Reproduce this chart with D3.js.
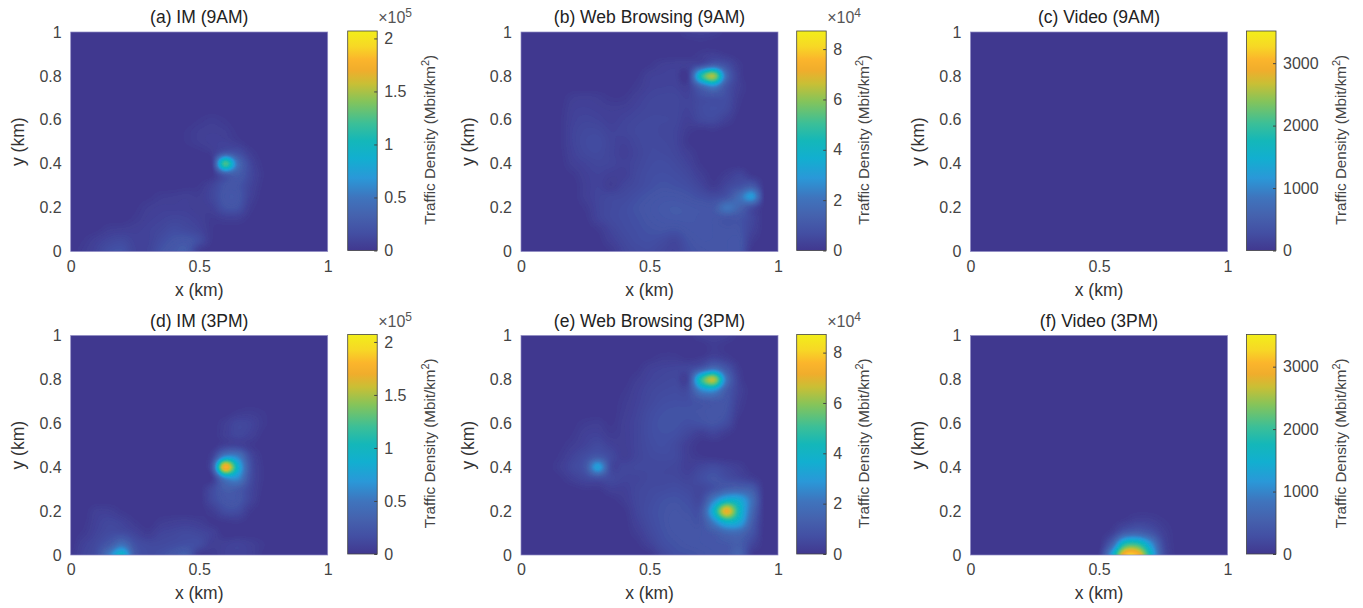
<!DOCTYPE html>
<html>
  <head>
    <meta charset="utf-8">
    <style>
      body { margin: 0; background: #fff; }
      text { font-family: "Liberation Sans", Arial, sans-serif; }
    </style>
  </head>
  <body>
    <svg id="chart" width="1363" height="608"></svg>
    <script src="https://cdn.jsdelivr.net/npm/d3@7"></script>
    <script>

    // every grid: rows from y=1 down to y=0, columns x=0..1, 0.05 km apart
    var imAM = [ // x 10^3 Mbit/km2
      [0,0,0,0,0,0,0,0,0,0,0,0,0,0,0,0,0,0,0,0,0],
      [0,0,0,0,0,0,0,0,0,0,0,0,0,0,0,0,0,0,0,0,0],
      [0,0,0,0,0,0,0,0,0,0,0,0,0,0,0,0,0,0,0,0,0],
      [0,0,0,0,0,0,0,0,0,0,0,0,0,0,0,0,0,0,0,0,0],
      [0,0,0,0,0,0,0,0,0,0,0,0,0,0,0,0,0,0,0,0,0],
      [0,0,0,0,0,0,0,0,0,0,0,0,0,0,0,0,0,0,0,0,0],
      [0,0,0,0,0,0,0,0,0,0,0,0,0,0,0,0,0,0,0,0,0],
      [0,0,0,0,0,0,0,0,0,0,0,0,0,0,0,0,0,0,0,0,0],
      [0,0,0,0,0,0,0,0,0,0,2,4,2,0,0,0,0,0,0,0,0],
      [0,0,0,0,0,0,0,0,0,2,5,6,5,1,0,0,0,0,0,0,0],
      [0,0,0,0,0,0,0,0,0,2,5,7,8,4,0,0,0,0,0,0,0],
      [0,0,0,0,0,0,0,0,0,0,1,5,24,18,5,0,0,0,0,0,0],
      [0,0,0,0,0,0,0,0,0,0,0,4,125,46,12,1,0,0,0,0,0],
      [0,0,0,0,0,0,0,0,0,0,0,1,26,29,13,2,0,0,0,0,0],
      [0,0,0,0,0,0,0,0,0,1,2,10,22,22,10,1,0,0,0,0,0],
      [0,0,0,0,0,0,1,4,5,6,5,12,24,24,8,0,0,0,0,0,0],
      [0,0,0,0,0,1,5,7,7,7,5,8,20,20,4,0,0,0,0,0,0],
      [0,0,0,0,0,3,7,9,11,10,7,3,6,6,1,0,0,0,0,0,0],
      [0,0,1,5,6,7,9,12,16,14,10,2,0,0,0,0,0,0,0,0,0],
      [0,2,7,12,14,9,9,16,22,24,16,2,0,0,0,0,0,0,0,0,0],
      [0,4,10,18,20,10,10,20,26,28,4,0,0,0,0,0,0,0,0,0,0]
    ];
    var webAM = [ // x 10^2 Mbit/km2
      [0,0,0,0,0,0,0,0,0,0,0,0,2,20,25,20,3,0,0,0,0],
      [0,0,0,0,0,0,0,0,0,0,0,0,0,2,6,3,0,0,0,0,0],
      [0,0,0,0,0,0,0,0,0,0,0,0,0,0,15,25,10,0,0,0,0],
      [0,0,0,0,0,0,0,0,0,0,8,25,30,30,70,130,75,15,0,0,0],
      [0,0,0,0,0,0,0,0,0,5,30,35,35,20,450,630,170,25,0,0,0],
      [0,0,0,0,0,0,0,0,0,15,35,40,40,30,150,230,90,25,0,0,0],
      [0,0,0,0,20,25,20,8,10,30,45,50,50,40,70,80,70,15,0,0,0],
      [0,0,0,3,30,35,30,25,28,40,50,50,50,40,65,75,60,8,0,0,0],
      [0,0,0,5,35,45,40,30,40,50,55,55,50,30,55,60,30,0,0,0,0],
      [0,0,0,5,40,55,55,40,45,55,60,50,45,15,5,10,0,0,0,0,0],
      [0,0,0,5,40,60,65,45,35,50,60,55,45,8,0,0,0,0,0,0,0],
      [0,0,0,3,35,55,60,45,30,45,60,60,50,25,2,0,0,0,0,0,0],
      [0,0,0,1,25,40,50,45,35,50,65,70,60,40,8,0,0,0,0,0,0],
      [0,0,0,0,8,30,40,30,30,55,70,75,70,55,25,3,20,45,10,0,0],
      [0,0,0,0,0,25,40,20,45,60,75,85,80,70,45,15,50,80,110,0,0],
      [0,0,0,0,0,25,45,55,60,75,90,100,100,90,75,65,90,190,300,0,0],
      [0,0,0,0,0,12,45,60,70,85,100,110,115,110,105,110,210,150,70,0,0],
      [0,0,0,0,0,4,40,60,70,80,95,105,110,110,105,100,90,90,50,0,0],
      [0,0,0,0,0,0,12,45,65,75,85,90,85,100,105,100,95,90,40,0,0],
      [0,0,0,0,0,0,2,30,55,70,75,65,50,85,100,100,100,100,20,0,0],
      [0,0,0,0,0,0,0,10,45,60,65,50,40,75,90,95,100,100,5,0,0]
    ];
    var videoAM = [ // Mbit/km2
      [0,0,0,0,0,0,0,0,0,0,0,0,0,0,0,0,0,0,0,0,0],
      [0,0,0,0,0,0,0,0,0,0,0,0,0,0,0,0,0,0,0,0,0],
      [0,0,0,0,0,0,0,0,0,0,0,0,0,0,0,0,0,0,0,0,0],
      [0,0,0,0,0,0,0,0,0,0,0,0,0,0,0,0,0,0,0,0,0],
      [0,0,0,0,0,0,0,0,0,0,0,0,0,0,0,0,0,0,0,0,0],
      [0,0,0,0,0,0,0,0,0,0,0,0,0,0,0,0,0,0,0,0,0],
      [0,0,0,0,0,0,0,0,0,0,0,0,0,0,0,0,0,0,0,0,0],
      [0,0,0,0,0,0,0,0,0,0,0,0,0,0,0,0,0,0,0,0,0],
      [0,0,0,0,0,0,0,0,0,0,0,0,0,0,0,0,0,0,0,0,0],
      [0,0,0,0,0,0,0,0,0,0,0,0,0,0,0,0,0,0,0,0,0],
      [0,0,0,0,0,0,0,0,0,0,0,0,0,0,0,0,0,0,0,0,0],
      [0,0,0,0,0,0,0,0,0,0,0,0,0,0,0,0,0,0,0,0,0],
      [0,0,0,0,0,0,0,0,0,0,0,0,0,0,0,0,0,0,0,0,0],
      [0,0,0,0,0,0,0,0,0,0,0,0,0,0,0,0,0,0,0,0,0],
      [0,0,0,0,0,0,0,0,0,0,0,0,0,0,0,0,0,0,0,0,0],
      [0,0,0,0,0,0,0,0,0,0,0,0,0,0,0,0,0,0,0,0,0],
      [0,0,0,0,0,0,0,0,0,0,0,0,0,0,0,0,0,0,0,0,0],
      [0,0,0,0,0,0,0,0,0,0,0,0,0,0,0,0,0,0,0,0,0],
      [0,0,0,0,0,0,0,0,0,0,0,0,0,0,0,0,0,0,0,0,0],
      [0,0,0,0,0,0,0,0,0,0,0,0,0,0,0,0,0,0,0,0,0],
      [0,0,0,0,0,0,0,0,0,0,0,0,0,0,0,0,0,0,0,0,0]
    ];
    var imPM = [
      [0,0,0,0,0,0,0,0,0,0,0,0,0,0,0,0,0,0,0,0,0],
      [0,0,0,0,0,0,0,0,0,0,0,0,0,0,0,0,0,0,0,0,0],
      [0,0,0,0,0,0,0,0,0,0,0,0,0,0,0,0,0,0,0,0,0],
      [0,0,0,0,0,0,0,0,0,0,0,0,0,0,0,0,0,0,0,0,0],
      [0,0,0,0,0,0,0,0,0,0,0,0,0,0,0,0,0,0,0,0,0],
      [0,0,0,0,0,0,0,0,0,0,0,0,0,0,0,0,0,0,0,0,0],
      [0,0,0,0,0,0,0,0,0,0,0,0,0,0,0,0,0,0,0,0,0],
      [0,0,0,0,0,0,0,0,0,0,0,0,0,3,4,2,0,0,0,0,0],
      [0,0,0,0,0,0,0,0,0,0,0,0,5,12,10,3,0,0,0,0,0],
      [0,0,0,0,0,0,0,0,0,0,0,0,6,12,8,1,0,0,0,0,0],
      [0,0,0,0,0,0,0,0,0,0,0,0,8,9,3,0,0,0,0,0,0],
      [0,0,0,0,0,0,0,0,0,0,0,8,60,55,14,1,0,0,0,0,0],
      [0,0,0,0,0,0,0,0,0,0,0,22,178,92,20,2,0,0,0,0,0],
      [0,0,0,0,0,0,0,0,0,0,0,4,58,62,17,2,0,0,0,0,0],
      [0,0,0,0,0,0,0,0,0,0,0,14,30,28,12,1,0,0,0,0,0],
      [0,0,0,0,0,0,0,0,0,0,0,14,24,24,10,0,0,0,0,0,0],
      [0,0,6,6,2,0,0,0,0,0,0,5,16,16,3,0,0,0,0,0,0],
      [0,1,8,12,9,3,0,4,6,7,5,1,2,3,0,0,0,0,0,0,0],
      [0,3,10,15,16,10,4,10,12,14,12,8,0,0,0,0,0,0,0,0,0],
      [0,8,14,26,45,20,14,14,16,18,16,6,7,9,6,2,0,0,0,0,0],
      [2,10,18,55,95,28,16,18,24,30,4,3,8,9,7,1,0,0,0,0,0]
    ];
    var webPM = [
      [0,0,0,0,0,0,0,0,0,0,0,0,0,0,25,35,25,3,0,0,0],
      [0,0,0,0,0,0,0,0,0,0,0,0,0,0,0,15,5,0,0,0,0],
      [0,0,0,0,0,0,0,0,0,0,5,15,15,5,15,40,20,0,0,0,0],
      [0,0,0,0,0,0,0,0,0,5,30,40,45,50,110,190,100,15,0,0,0],
      [0,0,0,0,0,0,0,0,1,20,40,50,55,50,470,650,200,30,0,0,0],
      [0,0,0,0,0,0,0,0,8,30,50,60,65,70,250,280,120,35,0,0,0],
      [0,0,0,0,0,0,0,0,15,35,55,70,75,75,100,110,95,25,0,0,0],
      [0,0,0,0,0,0,0,0,20,40,65,80,85,85,90,100,85,15,0,0,0],
      [0,0,0,0,3,15,20,5,25,45,70,85,85,75,80,90,65,2,0,0,0],
      [0,0,0,0,8,30,35,15,25,45,70,80,75,50,25,40,15,0,0,0,0],
      [0,0,0,3,20,40,60,35,25,45,65,75,60,25,2,0,0,0,0,0,0],
      [0,0,0,10,40,70,105,60,25,45,60,65,60,25,10,5,0,0,0,0,0],
      [0,0,0,20,55,100,320,60,50,55,55,55,50,30,50,65,45,25,0,0,0],
      [0,0,0,5,30,55,80,60,45,45,55,55,55,45,70,90,70,50,25,0,0],
      [0,0,0,0,2,10,10,30,30,50,60,65,70,60,50,90,140,150,120,0,0],
      [0,0,0,0,0,0,0,3,20,50,65,80,85,75,65,240,380,350,190,0,0],
      [0,0,0,0,0,0,0,0,5,45,70,85,95,85,100,380,720,420,170,0,0],
      [0,0,0,0,0,0,0,0,0,35,65,85,100,95,95,240,390,340,130,0,0],
      [0,0,0,0,0,0,0,0,0,20,55,80,95,100,100,120,170,170,90,0,0],
      [0,0,0,0,0,0,0,0,0,5,35,70,85,95,100,105,110,125,50,0,0],
      [0,0,0,0,0,0,0,0,0,0,5,50,75,80,90,100,105,150,15,0,0]
    ];
    var videoPM = [
      [0,0,0,0,0,0,0,0,0,0,0,0,0,0,0,0,0,0,0,0,0],
      [0,0,0,0,0,0,0,0,0,0,0,0,0,0,0,0,0,0,0,0,0],
      [0,0,0,0,0,0,0,0,0,0,0,0,0,0,0,0,0,0,0,0,0],
      [0,0,0,0,0,0,0,0,0,0,0,0,0,0,0,0,0,0,0,0,0],
      [0,0,0,0,0,0,0,0,0,0,0,0,0,0,0,0,0,0,0,0,0],
      [0,0,0,0,0,0,0,0,0,0,0,0,0,0,0,0,0,0,0,0,0],
      [0,0,0,0,0,0,0,0,0,0,0,0,0,0,0,0,0,0,0,0,0],
      [0,0,0,0,0,0,0,0,0,0,0,0,0,0,0,0,0,0,0,0,0],
      [0,0,0,0,0,0,0,0,0,0,0,0,0,0,0,0,0,0,0,0,0],
      [0,0,0,0,0,0,0,0,0,0,0,0,0,0,0,0,0,0,0,0,0],
      [0,0,0,0,0,0,0,0,0,0,0,0,0,0,0,0,0,0,0,0,0],
      [0,0,0,0,0,0,0,0,0,0,0,0,0,0,0,0,0,0,0,0,0],
      [0,0,0,0,0,0,0,0,0,0,0,0,0,0,0,0,0,0,0,0,0],
      [0,0,0,0,0,0,0,0,0,0,0,0,0,0,0,0,0,0,0,0,0],
      [0,0,0,0,0,0,0,0,0,0,0,0,0,0,0,0,0,0,0,0,0],
      [0,0,0,0,0,0,0,0,0,0,0,0,0,0,0,0,0,0,0,0,0],
      [0,0,0,0,0,0,0,0,0,0,0,0,5,20,20,5,0,0,0,0,0],
      [0,0,0,0,0,0,0,0,0,0,0,10,90,170,140,50,5,0,0,0,0],
      [0,0,0,0,0,0,0,0,0,0,0,120,520,600,420,130,10,0,0,0,0],
      [0,0,0,0,0,0,0,0,0,0,0,600,1850,1950,1200,250,10,0,0,0,0],
      [0,0,0,0,0,0,0,0,0,0,60,1300,3100,3100,1700,350,15,0,0,0,0]
    ];

    var titles = ['(a) IM (9AM)', '(b) Web Browsing (9AM)', '(c) Video (9AM)',
                  '(d) IM (3PM)', '(e) Web Browsing (3PM)', '(f) Video (3PM)'];
    var grids = [imAM, webAM, videoAM, imPM, webPM, videoPM];
    var gridUnits = [1e3, 1e2, 1, 1e3, 1e2, 1];
    var barMax = [207000, 87200, 3515, 207000, 87200, 3515];
    var barExponents = [5, 4, null, 5, 4, null];
    var barTicks = [
      [0, 50000, 100000, 150000, 200000],
      [0, 20000, 40000, 60000, 80000],
      [0, 1000, 2000, 3000]
    ];
    var xTicks = [0, 0.5, 1];
    var yTicks = [0, 0.2, 0.4, 0.6, 0.8, 1];

    // colorbar, position 0..1 against colour
    var colorPos = [0, 0.08, 0.16, 0.24, 0.33, 0.42, 0.50, 0.58, 0.68, 0.76, 0.82, 0.87, 0.93, 1];
    var colorHex = ['#41388f', '#434fa3', '#4562ae', '#3f74bd', '#2a98d8', '#12afd0', '#14b7b9',
                    '#3cbf97', '#85c45a', '#c9bf35', '#f0ad2c', '#fbb52c', '#f7d825', '#f2ee1a'];

    var colLeft = [70.7, 521, 970.5];
    var barLeft = [347.7, 796.7, 1246.5];
    var labelX = [435, 869, 1346];
    var rowTop = [32, 335.5];
    var plotW = 257, plotH = 219.5, barW = 29.5;
    var upsample = 5;

    var svg = d3.select('#chart');
    var defs = svg.append('defs');
    defs.append('filter').attr('id', 'soft')
        .attr('x', '-5%').attr('y', '-5%').attr('width', '110%').attr('height', '110%')
      .append('feGaussianBlur').attr('stdDeviation', 0.5);

    var grad = defs.append('linearGradient').attr('id', 'parula')
        .attr('x1', 0).attr('x2', 0).attr('y1', 1).attr('y2', 0);
    colorPos.forEach(function(p, i){
      grad.append('stop').attr('offset', p).attr('stop-color', colorHex[i]);
    });

    function cubic(a, b, c, d, t){
      return 0.5*(2*b + (c-a)*t + (2*a-5*b+4*c-d)*t*t + (3*b-a-3*c+d)*t*t*t);
    }

    // smooth the coarse grid for drawing, same idea as shading interp
    function smoothGrid(g){
      var n = g.length, m = (n-1)*upsample + 1;
      var out = new Array(m*m);
      function at(r, c){
        return g[Math.max(0, Math.min(n-1, r))][Math.max(0, Math.min(n-1, c))];
      }
      for (var j = 0; j < m; j++){
        var r = Math.min(Math.floor(j/upsample), n-2), tr = j/upsample - r;
        for (var i = 0; i < m; i++){
          var c = Math.min(Math.floor(i/upsample), n-2), tc = i/upsample - c;
          var col = [-1, 0, 1, 2].map(function(k){
            return cubic(at(r+k, c-1), at(r+k, c), at(r+k, c+1), at(r+k, c+2), tc);
          });
          out[j*m + i] = Math.max(0, cubic(col[0], col[1], col[2], col[3], tr));
        }
      }
      return {values: out, size: m};
    }

    function styleAxis(g, size){
      g.select('.domain').remove();
      g.selectAll('text').style('font-size', size + 'px').attr('fill', '#444');
    }

    grids.forEach(function(grid, k){
      var col = k % 3, row = Math.floor(k / 3);
      var x0 = colLeft[col], y0 = rowTop[row];
      var g = svg.append('g').attr('transform', 'translate(' + x0 + ',' + y0 + ')');

      var x = d3.scaleLinear().domain([0, 1]).range([0, plotW]);
      var y = d3.scaleLinear().domain([0, 1]).range([plotH, 0]);
      var color = d3.scaleLinear()
          .domain(colorPos.map(function(p){ return p * barMax[k]; }))
          .range(colorHex);

      defs.append('clipPath').attr('id', 'clip' + k)
        .append('rect').attr('width', plotW).attr('height', plotH);

      var field = g.append('g').attr('clip-path', 'url(#clip' + k + ')')
        .append('g').attr('filter', 'url(#soft)');
      field.append('rect')
          .attr('x', -6).attr('y', -6)
          .attr('width', plotW + 12).attr('height', plotH + 12)
          .attr('fill', color(0));

      var fine = smoothGrid(grid);
      var m = fine.size;
      var scaled = fine.values.map(function(v){ return v * gridUnits[k]; });
      var path = d3.geoPath(d3.geoTransform({
        point: function(px, py){
          this.stream.point(x((px - 0.5) / (m - 1)), y(1 - (py - 0.5) / (m - 1)));
        }
      }));
      var levels = d3.range(1, 130).map(function(i){ return i / 130 * barMax[k]; });
      var shapes = d3.contours().size([m, m]).thresholds(levels)(scaled)
          .filter(function(d){ return d.coordinates.length > 0; });
      field.selectAll('path').data(shapes).enter().append('path')
          .attr('d', path)
          .attr('fill', function(d){ return color(d.value); });

      g.append('rect').attr('width', plotW).attr('height', plotH)
          .attr('fill', 'none').attr('stroke', '#8f8ac4').attr('stroke-width', 0.7);

      g.append('g').attr('transform', 'translate(0,' + plotH + ')')
          .call(d3.axisBottom(x).tickValues(xTicks).tickSize(0).tickPadding(9).tickFormat(d3.format('~g')))
          .call(styleAxis, 16);
      g.append('g')
          .call(d3.axisLeft(y).tickValues(yTicks).tickSize(0).tickPadding(9).tickFormat(d3.format('~g')))
          .call(styleAxis, 16);

      g.append('text').attr('x', plotW / 2).attr('y', -9).attr('text-anchor', 'middle')
          .attr('font-size', 17.5).attr('fill', '#222').text(titles[k]);
      g.append('text').attr('x', plotW / 2).attr('y', plotH + 44).attr('text-anchor', 'middle')
          .attr('font-size', 17.5).attr('fill', '#333').text('x (km)');
      g.append('text')
          .attr('transform', 'translate(-47,' + (plotH / 2) + ') rotate(-90)')
          .attr('text-anchor', 'middle').attr('font-size', 17.5).attr('fill', '#333').text('y (km)');

      // colorbar
      var barTop = y0 - 1;
      var cb = svg.append('g').attr('transform', 'translate(' + barLeft[col] + ',' + barTop + ')');
      var cy = d3.scaleLinear().domain([0, barMax[k]]).range([plotH, 0]);
      cb.append('rect').attr('width', barW).attr('height', plotH).attr('fill', 'url(#parula)');
      var exp = barExponents[k];
      var cbAxis = cb.append('g').attr('transform', 'translate(' + barW + ',0)')
          .call(d3.axisRight(cy).tickValues(barTicks[col]).tickSize(-3).tickPadding(7)
            .tickFormat(function(d){ return exp ? d3.format('~g')(d / Math.pow(10, exp)) : d; }))
          .call(styleAxis, 16);
      cbAxis.selectAll('line').attr('stroke', '#444');
      cb.append('rect').attr('width', barW).attr('height', plotH)
          .attr('fill', 'none').attr('stroke', '#444').attr('stroke-width', 0.8);

      if (exp){
        var e = cb.append('text').attr('x', barW + 1).attr('y', -8)
            .attr('font-size', 16).attr('fill', '#555').text('\u00d710');
        e.append('tspan').attr('dy', -6).attr('font-size', 12).text(exp);
      }

      var lab = svg.append('text')
          .attr('transform', 'translate(' + labelX[col] + ',' + (barTop + plotH * 0.5 - 1) + ') rotate(-90)')
          .attr('text-anchor', 'middle').attr('font-size', 15.2).attr('fill', '#444')
          .text('Traffic Density (Mbit/km');
      lab.append('tspan').attr('dy', -6).attr('font-size', 11).text('2');
      lab.append('tspan').attr('dy', 6).text(')');
    });

    </script>
  </body>
</html>
